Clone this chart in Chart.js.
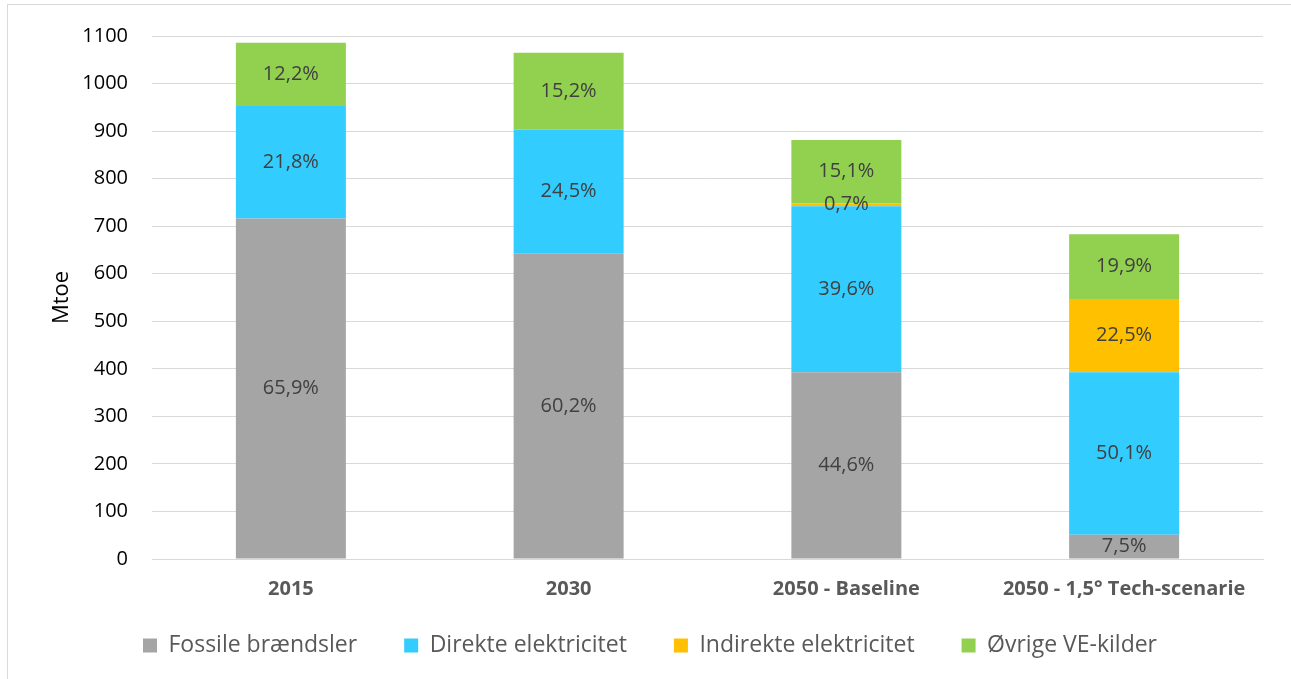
<!DOCTYPE html>
<html>
<head>
<meta charset="utf-8">
<script src="https://cdn.jsdelivr.net/npm/chart.js@4.4.1/dist/chart.umd.min.js"></script>
<style>
  html, body { margin: 0; padding: 0; background: #fff; }
  #wrap { position: absolute; left: 0; top: 0; width: 1291px; height: 679px; }
</style>
</head>
<body>
<div id="wrap"><canvas id="c" width="1291" height="679"></canvas></div>
<script>
const categories = ["2015", "2030", "2050 - Baseline", "2050 - 1,5° Tech-scenarie"];
const seriesNames = ["Fossile brændsler", "Direkte elektricitet", "Indirekte elektricitet", "Øvrige VE-kilder"];
const fossil   = [716, 642, 393, 51];
const direct   = [237, 261, 349, 342];
const indirect = [0, 0, 6, 154];
const other    = [133, 162, 133, 136];
const fossilPct   = ["65,9%", "60,2%", "44,6%", "7,5%"];
const directPct   = ["21,8%", "24,5%", "39,6%", "50,1%"];
const indirectPct = ["", "", "0,7%", "22,5%"];
const otherPct    = ["12,2%", "15,2%", "15,1%", "19,9%"];
const yTicks = [0, 100, 200, 300, 400, 500, 600, 700, 800, 900, 1000, 1100];
const colors = ["#a5a5a5", "#33ccff", "#ffc000", "#92d050"];

const FONT = "'Open Sans', sans-serif";
const values = [fossil, direct, indirect, other];
const pcts = [fossilPct, directPct, indirectPct, otherPct];

const labelPlugin = {
  id: "pctLabels",
  afterDatasetsDraw(chart) {
    const ctx = chart.ctx;
    ctx.save();
    ctx.font = "20px " + FONT;
    ctx.fillStyle = "#404040";
    ctx.textAlign = "center";
    ctx.textBaseline = "middle";
    chart.data.datasets.forEach((ds, di) => {
      const meta = chart.getDatasetMeta(di);
      meta.data.forEach((bar, i) => {
        const t = pcts[di][i];
        if (!t) return;
        const mid = (bar.y + bar.base) / 2;
        ctx.fillText(t, bar.x, mid);
      });
    });
    ctx.restore();
  }
};

const borderPlugin = {
  id: "outerBorder",
  afterLayout(chart) {
    if (chart.legend) { chart.legend.top -= 12; chart.legend.bottom -= 12; }
  },
  beforeDraw(chart) {
    const ctx = chart.ctx;
    ctx.save();
    ctx.strokeStyle = "#d9d9d9";
    ctx.lineWidth = 1;
    ctx.strokeRect(7.5, 4.5, 1300, 700);
    ctx.restore();
  }
};

new Chart(document.getElementById("c"), {
  type: "bar",
  data: {
    labels: categories,
    datasets: seriesNames.map((n, i) => ({
      label: n,
      data: values[i],
      backgroundColor: colors[i],
      borderWidth: 0,
      categoryPercentage: 1.0,
      barPercentage: 0.396
    }))
  },
  options: {
    responsive: false,
    animation: false,
    layout: { padding: { left: 37, right: 28, top: 19, bottom: 0 } },
    plugins: {
      legend: {
        position: "bottom",
        labels: {
          font: { family: FONT, size: 23 },
          color: "#595959",
          boxWidth: 14,
          boxHeight: 14,
          padding: 47,
          useBorderRadius: false
        }
      },
      tooltip: { enabled: false }
    },
    scales: {
      x: {
        stacked: true,
        grid: { display: false },
        border: { color: "#d9d9d9" },
        afterFit(axis) { axis.height = 40; },
        ticks: { font: { family: FONT, size: 20, weight: "bold" }, color: "#595959", padding: 10 }
      },
      y: {
        stacked: true,
        min: 0,
        max: 1100,
        afterFit(axis) { axis.width = 115; },
        afterBuildTicks(axis) { axis.ticks = yTicks.map(v => ({ value: v })); },
        grid: { color: "#d9d9d9", drawTicks: false },
        border: { display: false },
        ticks: { font: { family: FONT, size: 20 }, color: "#000", padding: 24, callback: v => String(v) },
        title: { display: true, text: "Mtoe", font: { family: FONT, size: 22 }, color: "#000", padding: 12 }
      }
    }
  },
  plugins: [labelPlugin, borderPlugin]
});
</script>
</body>
</html>
